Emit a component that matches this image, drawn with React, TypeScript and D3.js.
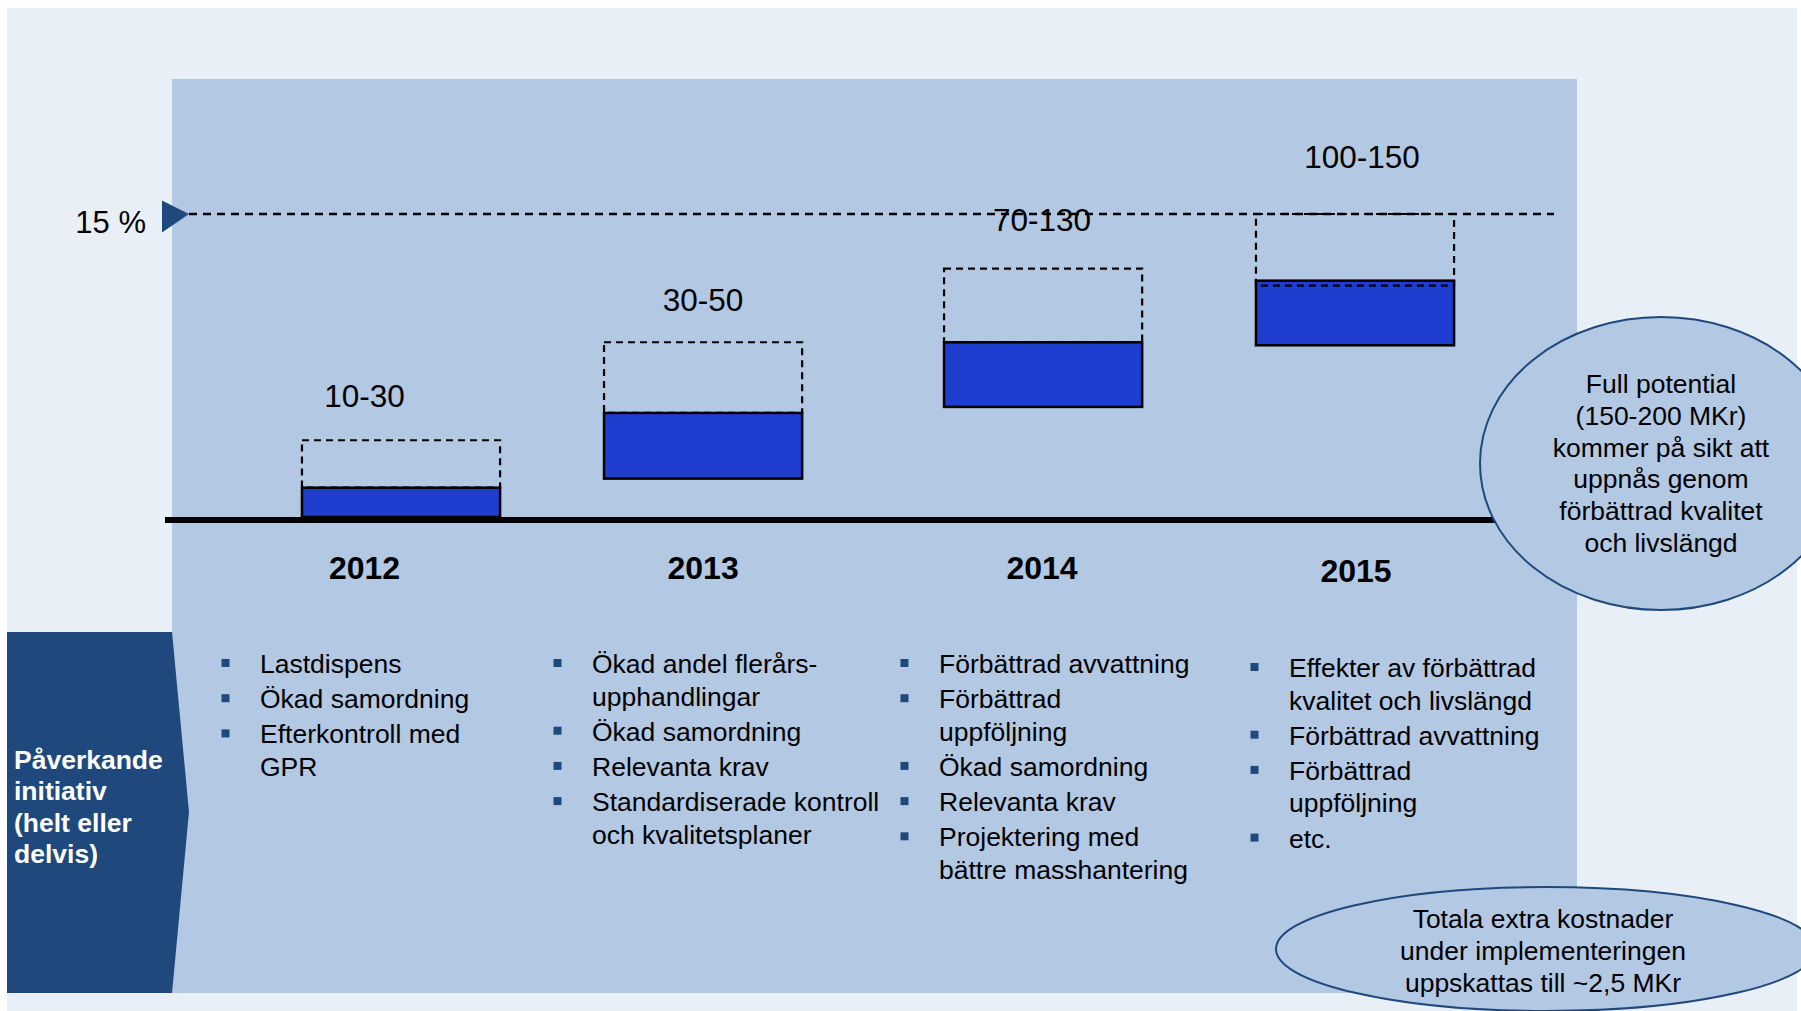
import React from "react";
import * as d3 from "d3";

// Yearly effect ranges (MKr) and their share of the 15 % target
const years = ["2012", "2013", "2014", "2015"];
const savingRanges = ["10-30", "30-50", "70-130", "100-150"];
const securedFrom = [0, 1.9, 5.45, 8.5];
const securedTo = [1.45, 5.15, 8.65, 11.7];
const potentialFrom = [1.45, 5.15, 8.65, 11.45];
const potentialTo = [3.8, 8.65, 12.3, 15];
const targetPct = 15;
const targetLabel = "15 %";

// Initiatives per year, one array of wrapped lines per bullet
const initiatives2012 = [["Lastdispens"], ["Ökad samordning"], ["Efterkontroll med", "GPR"]];
const initiatives2013 = [
  ["Ökad andel flerårs-", "upphandlingar"],
  ["Ökad samordning"],
  ["Relevanta krav"],
  ["Standardiserade kontroll", "och kvalitetsplaner"],
];
const initiatives2014 = [
  ["Förbättrad avvattning"],
  ["Förbättrad", "uppföljning"],
  ["Ökad samordning"],
  ["Relevanta krav"],
  ["Projektering med", "bättre masshantering"],
];
const initiatives2015 = [
  ["Effekter av förbättrad", "kvalitet och livslängd"],
  ["Förbättrad avvattning"],
  ["Förbättrad", "uppföljning"],
  ["etc."],
];
const initiatives = [initiatives2012, initiatives2013, initiatives2014, initiatives2015];

const sideLabel = ["Påverkande", "initiativ", "(helt eller", "delvis)"];
const fullPotentialNote = [
  "Full potential",
  "(150-200 MKr)",
  "kommer på sikt att",
  "uppnås genom",
  "förbättrad kvalitet",
  "och livslängd",
];
const costNote = ["Totala extra kostnader", "under implementeringen", "uppskattas till ~2,5 MKr"];

// Layout
const W = 1801;
const H = 1011;
const FONT = "'Liberation Sans', Arial, Helvetica, sans-serif";
const BODY_SIZE = 26.5;
const panel = { x0: 172, x1: 1577, y0: 79, y1: 993 };
const barLeftPct = [9.25, 30.75, 54.95, 77.15];
const barWidthPct = 14.1;
const yearLabelPct = [13.7, 37.8, 61.92, 84.27];
const rangeLabelPct = [13.7, 37.8, 61.92, 84.7];
const rangeLabelLift = [33, 31, 38, 46];
const yearBaseline = [579, 579, 579, 581.5];
const listTextX = [260, 592, 939, 1289];
const listStartY = [673, 673, 673, 677];

const colors = {
  outer: "#e8eff7",
  inner: "#b3c8e3",
  dark: "#1f497d",
  bar: "#1f3ecf",
};

export default function App() {
  const x = d3.scaleLinear().domain([0, 100]).range([panel.x0, panel.x1]);
  const y = d3.scaleLinear().domain([0, targetPct]).range([517, 214]);
  const barW = x(barWidthPct) - x(0);

  const sidePath = d3.path();
  sidePath.moveTo(7, 632);
  sidePath.lineTo(172, 632);
  sidePath.lineTo(189, 812);
  sidePath.lineTo(172, 993);
  sidePath.lineTo(7, 993);
  sidePath.closePath();

  const ty = y(targetPct);
  const tri = d3.path();
  tri.moveTo(162, ty - 13.5);
  tri.lineTo(189, ty);
  tri.lineTo(162, ty + 18.5);
  tri.closePath();

  // bullet list line positions
  const lists = initiatives.map((items, c) => {
    const out: { text: string; y: number; bullet: boolean }[] = [];
    let cy = listStartY[c];
    items.forEach((lines, i) => {
      if (i > 0) cy += 35.2;
      lines.forEach((t, j) => {
        if (j > 0) cy += 32.5;
        out.push({ text: t, y: cy, bullet: j === 0 });
      });
    });
    return out;
  });

  return (
    <svg
      width={W}
      height={H}
      viewBox={`0 0 ${W} ${H}`}
      style={{ position: "absolute", left: 0, top: 0, display: "block" }}
      fontFamily={FONT}
    >
      <rect x={0} y={0} width={W} height={H} fill="#ffffff" />
      <rect x={7} y={8} width={1790} height={H - 8} fill={colors.outer} />
      <rect x={panel.x0} y={panel.y0} width={panel.x1 - panel.x0} height={panel.y1 - panel.y0} fill={colors.inner} />

      {/* side banner */}
      <path d={sidePath.toString()} fill={colors.dark} />
      {sideLabel.map((t, i) => (
        <text key={t} x={14} y={769 + i * 31.3} fill="#ffffff" fontSize={BODY_SIZE} fontWeight="bold">
          {t}
        </text>
      ))}

      {/* baseline */}
      <line x1={165} x2={1500} y1={y(0) + 3} y2={y(0) + 3} stroke="#000" strokeWidth={6} />

      {/* target line */}
      <line x1={189} x2={1554} y1={ty} y2={ty} stroke="#000" strokeWidth={2.4} strokeDasharray="8 6" />
      <path d={tri.toString()} fill={colors.dark} />
      <text x={146} y={233} textAnchor="end" fontSize={31} fill="#000">
        {targetLabel}
      </text>

      {/* bars */}
      {years.map((yr, i) => {
        const bx = x(barLeftPct[i]);
        return (
          <g key={yr}>
            <rect
              x={bx}
              y={y(securedTo[i])}
              width={barW}
              height={y(securedFrom[i]) - y(securedTo[i])}
              fill={colors.bar}
              stroke="#000"
              strokeWidth={2.5}
            />
            <rect
              x={bx}
              y={y(potentialTo[i])}
              width={barW}
              height={y(potentialFrom[i]) - y(potentialTo[i])}
              fill="none"
              stroke="#000"
              strokeWidth={2.2}
              strokeDasharray="7 5"
            />
            <text
              x={x(rangeLabelPct[i])}
              y={y(potentialTo[i]) - rangeLabelLift[i]}
              textAnchor="middle"
              fontSize={31.5}
              fill="#000"
            >
              {savingRanges[i]}
            </text>
            <text x={x(yearLabelPct[i])} y={yearBaseline[i]} textAnchor="middle" fontSize={32} fontWeight="bold" fill="#000">
              {yr}
            </text>
          </g>
        );
      })}

      {/* initiative lists */}
      {lists.map((lines, c) => (
        <g key={c}>
          {lines.map((l, k) => (
            <g key={k}>
              {l.bullet && (
                <rect x={listTextX[c] - 38.5} y={l.y - 14} width={8} height={8} fill={colors.dark} />
              )}
              <text x={listTextX[c]} y={l.y} fontSize={BODY_SIZE} fill="#000">
                {l.text}
              </text>
            </g>
          ))}
        </g>
      ))}

      {/* notes */}
      <ellipse cx={1661} cy={463.5} rx={181} ry={146.5} fill={colors.inner} stroke={colors.dark} strokeWidth={2} />
      {fullPotentialNote.map((t, i) => (
        <text key={t} x={1661} y={393 + i * 31.8} textAnchor="middle" fontSize={BODY_SIZE} fill="#000">
          {t}
        </text>
      ))}
      <ellipse cx={1546} cy={949} rx={270} ry={62} fill={colors.inner} stroke={colors.dark} strokeWidth={2} />
      {costNote.map((t, i) => (
        <text key={t} x={1543} y={928 + i * 32} textAnchor="middle" fontSize={BODY_SIZE} fill="#000">
          {t}
        </text>
      ))}
    </svg>
  );
}
